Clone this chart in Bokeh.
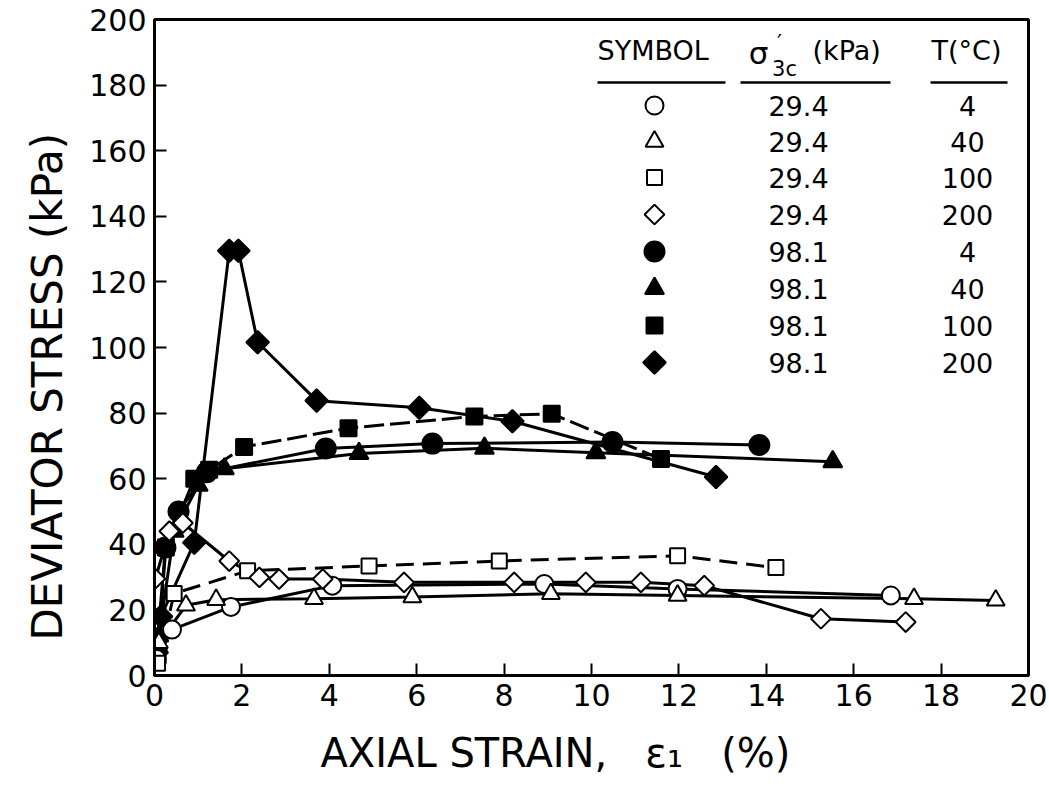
import math
from bokeh.plotting import figure
from bokeh.models import Range1d, FixedTicker, Label, Title
from bokeh.embed import file_html
from bokeh.resources import INLINE

FONT = "DejaVu Sans"

# ---------------- data ----------------
x_ticks = [0, 2, 4, 6, 8, 10, 12, 14, 16, 18, 20]
y_ticks = [0, 20, 40, 60, 80, 100, 120, 140, 160, 180, 200]

# sigma'3c = 29.4 kPa (open symbols)
oc_x = [0.05, 0.40, 1.75, 4.07, 8.92, 11.97, 16.85]          # T = 4
oc_y = [5.0, 14.0, 20.9, 27.4, 27.9, 26.4, 24.4]
ot_x = [0.10, 0.72, 1.41, 3.65, 5.90, 9.07, 11.97, 17.38, 19.25]  # T = 40
ot_y = [10.0, 21.4, 23.1, 23.4, 23.9, 24.9, 24.4, 23.4, 22.9]
os_x = [0.07, 0.45, 2.13, 4.91, 7.89, 11.97, 14.22]          # T = 100
os_y = [3.7, 25.0, 31.9, 33.4, 34.9, 36.5, 32.9]
od_x = [0.02, 0.34, 0.65, 1.71, 2.40, 2.85, 3.85, 5.71, 8.23, 9.87, 11.13, 12.58, 15.25, 17.19]  # T = 200
od_y = [29.5, 44.0, 46.5, 34.9, 29.9, 29.4, 29.4, 28.4, 28.4, 28.4, 28.4, 27.4, 17.3, 16.3]

# sigma'3c = 98.1 kPa (filled symbols)
fc_x = [0.05, 0.25, 0.55, 1.20, 3.92, 6.36, 10.48, 13.84]     # T = 4
fc_y = [8.0, 39.0, 50.0, 62.0, 69.2, 70.7, 71.2, 70.3]
ft_x = [0.10, 0.45, 1.00, 1.60, 4.68, 7.55, 10.10, 15.52]     # T = 40
ft_y = [12.0, 44.0, 58.0, 63.0, 67.7, 69.3, 67.9, 65.2]
fs_x = [0.07, 0.26, 0.91, 1.25, 2.05, 4.44, 7.32, 9.09, 11.59]  # T = 100
fs_y = [6.0, 39.0, 60.0, 62.7, 69.7, 75.4, 79.0, 79.8, 66.0]
fd_x = [0.05, 0.15, 0.91, 1.71, 1.92, 2.36, 3.71, 6.06, 8.19, 12.85]  # T = 200
fd_y = [7.0, 18.0, 40.5, 129.5, 129.5, 101.6, 83.8, 81.6, 77.5, 60.5]

legend_sigma = ["29.4", "29.4", "29.4", "29.4", "98.1", "98.1", "98.1", "98.1"]
legend_T = ["4", "40", "100", "200", "4", "40", "100", "200"]

# ---------------- layout ----------------
W, H = 1049, 795
FL, FR, FT, FB = 154, 21, 19, 120
FW = W - FL - FR
FH = H - FT - FB


def px2x(px):
    return (px - FL) / FW * 20.0


def py2y(py):
    return (H - FB - py) / FH * 200.0


p = figure(width=W, height=H, output_backend="svg", toolbar_location=None,
           x_range=Range1d(0, 20), y_range=Range1d(0, 200),
           min_border_left=FL, min_border_right=FR, min_border_top=FT,
           min_border_bottom=FB, background_fill_color="white",
           border_fill_color="white")
p.xgrid.visible = False
p.ygrid.visible = False
p.outline_line_color = "black"
p.outline_line_width = 3
p.outline_line_alpha = 1.0

p.xaxis.ticker = FixedTicker(ticks=x_ticks)
p.yaxis.ticker = FixedTicker(ticks=y_ticks)
for ax in (p.xaxis, p.yaxis):
    ax.major_tick_in = 12
    ax.major_tick_out = 0
    ax.major_tick_line_width = 2
    ax.major_tick_line_color = "black"
    ax.minor_tick_line_color = None
    ax.axis_line_width = 3
    ax.axis_line_color = "black"
    ax.major_label_text_font = FONT
    ax.major_label_text_font_size = "30px"
    ax.major_label_text_color = "black"
    ax.major_label_standoff = 8

NB = "\u00a0"
# axis titles as side titles (can be shifted along the axis)
xt = Title(text="AXIAL STRAIN," + NB * 3 + "ε₁" + NB * 3 + "(%)", align="left",
           offset=166, text_font=FONT, text_font_size="40px",
           text_font_style="normal", text_color="black", standoff=38)
p.add_layout(xt, "below")
yt = Title(text="DEVIATOR STRESS (kPa)", align="left", offset=35,
           text_font=FONT, text_font_size="42px", text_font_style="normal",
           text_color="black", standoff=30)
p.add_layout(yt, "left")

# ---------------- series ----------------
LW = 3
open_series = [
    (oc_x, oc_y, "circle", 18, 0.0, "solid"),
    (ot_x, ot_y, "triangle", 18, 0.0, "solid"),
    (os_x, os_y, "square", 15, 0.0, "18 9"),
    (od_x, od_y, "square", 14, math.pi / 4, "solid"),
]
filled_series = [
    (fc_x, fc_y, "circle", 20, 0.0, "solid"),
    (ft_x, ft_y, "triangle", 19, 0.0, "solid"),
    (fs_x, fs_y, "square", 16, 0.0, "20 6"),
    (fd_x, fd_y, "square", 16, math.pi / 4, "solid"),
]

for xs, ys, mk, sz, ang, dash in filled_series + open_series:
    p.line(xs, ys, line_color="black", line_width=LW, line_dash=dash)

for xs, ys, mk, sz, ang, dash in filled_series:
    p.scatter(xs, ys, marker=mk, size=sz, angle=ang, fill_color="black",
              line_color="black", line_width=2)
for xs, ys, mk, sz, ang, dash in open_series:
    p.scatter(xs, ys, marker=mk, size=sz, angle=ang, fill_color="white",
              line_color="black", line_width=2)

# ---------------- legend table ----------------
row_py = [105, 141, 177, 214, 251, 288, 325, 362]
sym_px, sig_px, t_px = 654, 798, 967
head_py = 50
lbl_kw = dict(text_font=FONT, text_color="black", text_baseline="middle")

p.add_layout(Label(x=px2x(597), y=py2y(head_py), text="SYMBOL",
                   text_align="left", text_font_size="27px", **lbl_kw))
p.add_layout(Label(x=px2x(758), y=py2y(head_py + 2), text="σ",
                   text_align="center", text_font_size="31px", **lbl_kw))
p.add_layout(Label(x=px2x(779), y=py2y(head_py - 8), text="′",
                   text_align="center", text_font_size="22px", **lbl_kw))
p.add_layout(Label(x=px2x(784), y=py2y(head_py + 18), text="3c",
                   text_align="center", text_font_size="21px", **lbl_kw))
p.add_layout(Label(x=px2x(812), y=py2y(head_py), text="(kPa)",
                   text_align="left", text_font_size="27px", **lbl_kw))
p.add_layout(Label(x=px2x(966), y=py2y(head_py), text="T(°C)",
                   text_align="center", text_font_size="27px", **lbl_kw))

p.segment(x0=[px2x(597), px2x(740), px2x(930)], y0=[py2y(82)] * 3,
          x1=[px2x(725), px2x(890), px2x(1007)], y1=[py2y(82)] * 3,
          line_color="black", line_width=2.5)

leg_markers = [s for s in open_series] + [s for s in filled_series]
for i, (xs, ys, mk, sz, ang, dash) in enumerate(leg_markers):
    fill = "white" if i < 4 else "black"
    p.scatter([px2x(sym_px)], [py2y(row_py[i])], marker=mk, size=sz, angle=ang,
              fill_color=fill, line_color="black", line_width=2)
    p.add_layout(Label(x=px2x(sig_px), y=py2y(row_py[i]), text=legend_sigma[i],
                       text_align="center", text_font_size="27px", **lbl_kw))
    p.add_layout(Label(x=px2x(t_px), y=py2y(row_py[i]), text=legend_T[i],
                       text_align="center", text_font_size="27px", **lbl_kw))

open("out.html", "w").write(file_html(p, INLINE))
